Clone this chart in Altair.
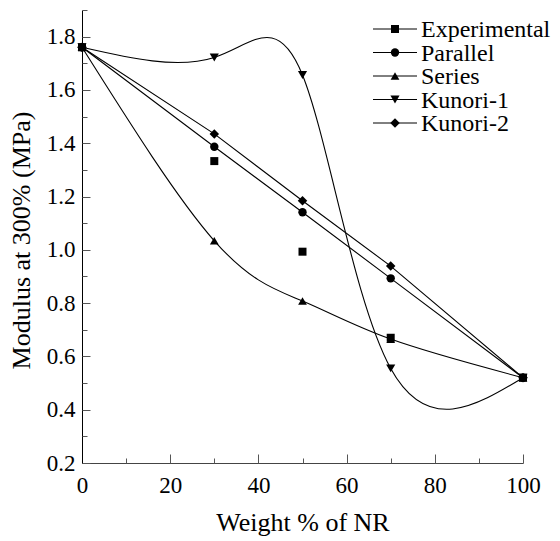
import altair as alt
import pandas as pd

# ---- data ----
weights = [0, 30, 50, 70, 100]
series_names = ["Experimental", "Parallel", "Series", "Kunori-1", "Kunori-2"]
experimental = [1.76, 1.333, 0.993, 0.670, 0.52]
parallel = [1.76, 1.387, 1.141, 0.893, 0.52]
series_vals = [1.76, 1.034, 0.808, 0.665, 0.52]
kunori1 = [1.76, 1.722, 1.656, 0.555, 0.52]
kunori2 = [1.76, 1.435, 1.184, 0.939, 0.52]
shapes = ["square", "circle", "triangle-up", "triangle-down", "diamond"]
sizes = [64, 90, 125, 125, 95]

x_major = [0, 20, 40, 60, 80, 100]
x_minor = [10, 30, 50, 70, 90]
y_major = [0.2, 0.4, 0.6, 0.8, 1.0, 1.2, 1.4, 1.6, 1.8]
y_minor = [0.3, 0.5, 0.7, 0.9, 1.1, 1.3, 1.5, 1.7, 1.9]

values = {
    "Experimental": experimental,
    "Parallel": parallel,
    "Series": series_vals,
    "Kunori-1": kunori1,
    "Kunori-2": kunori2,
}
rows = []
for name in series_names:
    for w, v in zip(weights, values[name]):
        rows.append({"series": name, "weight": w, "modulus": v})
df = pd.DataFrame(rows)
leg_df = pd.DataFrame({"idx": list(range(len(series_names))), "series": series_names})

W, H = 441, 453
FONT = "Liberation Serif, Times New Roman, Times, DejaVu Serif, serif"
TICK_COLOR = "#555"

xs = alt.Scale(domain=[0, 100], nice=False, zero=False)
ys = alt.Scale(domain=[0.2, 1.9], nice=False, zero=False)
shape_scale = alt.Scale(domain=series_names, range=shapes)
size_scale = alt.Scale(domain=series_names, range=sizes)

# main axes (labels, titles, domain lines)
ax_x_main = alt.Axis(orient="bottom", values=x_major, format="d", ticks=False, grid=False,
                     domain=True, domainColor="#444", labelFont=FONT, labelFontSize=23,
                     labelColor="black", labelPadding=11, labelFlush=False,
                     title="Weight % of NR", titleFont=FONT, titleFontSize=26,
                     titleFontWeight="normal", titleColor="black", titleY=67,
                     titleBaseline="alphabetic")
ax_y_main = alt.Axis(orient="left", values=y_major, format=".1f", ticks=False, grid=False,
                     domain=True, domainColor="black", labelFont=FONT, labelFontSize=23,
                     labelColor="black", labelPadding=7, labelFlush=False,
                     title="Modulus at 300% (MPa)", titleFont=FONT, titleFontSize=26,
                     titleFontWeight="normal", titleColor="black", titleX=-53, titleY=230,
                     titleAngle=270, titleBaseline="alphabetic", titleAlign="center")
# inward major ticks
ax_x_major = alt.Axis(orient="top", offset=-H, values=x_major, tickSize=9, labels=False,
                      domain=False, grid=False, tickColor=TICK_COLOR, title=None)
ax_y_major = alt.Axis(orient="right", offset=-W, values=y_major, tickSize=8, labels=False,
                      domain=False, grid=False, tickColor=TICK_COLOR, title=None)
# inward minor ticks
ax_x_minor = alt.Axis(orient="top", offset=-H, values=x_minor, tickSize=5, labels=False,
                      domain=False, grid=False, tickColor=TICK_COLOR, title=None)
ax_y_minor = alt.Axis(orient="right", offset=-W, values=y_minor, tickSize=5, labels=False,
                      domain=False, grid=False, tickColor=TICK_COLOR, title=None)

base = alt.Chart(df)

lines_linear = base.transform_filter(
    alt.FieldOneOfPredicate(field="series", oneOf=["Parallel", "Kunori-2"])
).mark_line(color="black", strokeWidth=1.1, interpolate="linear").encode(
    x=alt.X("weight:Q", scale=xs, axis=ax_x_main),
    y=alt.Y("modulus:Q", scale=ys, axis=ax_y_main),
    detail="series:N",
)

lines_curved = base.transform_filter(
    alt.FieldOneOfPredicate(field="series", oneOf=["Series", "Kunori-1"])
).mark_line(color="black", strokeWidth=1.1, interpolate="natural").encode(
    x=alt.X("weight:Q", scale=xs, axis=ax_x_major),
    y=alt.Y("modulus:Q", scale=ys, axis=ax_y_major),
    detail="series:N",
)

points = base.mark_point(filled=True, color="black", opacity=1).encode(
    x=alt.X("weight:Q", scale=xs, axis=ax_x_minor),
    y=alt.Y("modulus:Q", scale=ys, axis=ax_y_minor),
    shape=alt.Shape("series:N", scale=shape_scale, legend=None),
    size=alt.Size("series:N", scale=size_scale, legend=None),
)

leg_y = alt.Y("idx:Q", scale=alt.Scale(domain=[0, 4], range=[19, 113]), axis=None)
leg_rule = alt.Chart(leg_df).mark_rule(color="black", strokeWidth=1).encode(
    x=alt.value(291), x2=alt.value(335), y=leg_y
)
leg_pts = alt.Chart(leg_df).mark_point(filled=True, color="black", opacity=1).encode(
    x=alt.value(313), y=leg_y,
    shape=alt.Shape("series:N", scale=shape_scale, legend=None),
    size=alt.Size("series:N", scale=size_scale, legend=None),
)
leg_txt = alt.Chart(leg_df).mark_text(align="left", baseline="middle", font=FONT,
                                      fontSize=24, color="black", dy=1).encode(
    x=alt.value(339), y=leg_y, text="series:N"
)

chart = alt.layer(lines_linear, lines_curved, points, leg_rule, leg_pts, leg_txt).resolve_scale(
    x="independent", y="independent"
).resolve_axis(
    x="independent", y="independent"
).properties(
    width=W, height=H,
    autosize=alt.AutoSizeParams(type="none"),
    padding={"left": 74, "top": 2, "right": 29, "bottom": 78},
    background="white",
).configure_view(strokeWidth=0)

chart.save("out.html", embed_options={"renderer": "svg", "actions": False})
